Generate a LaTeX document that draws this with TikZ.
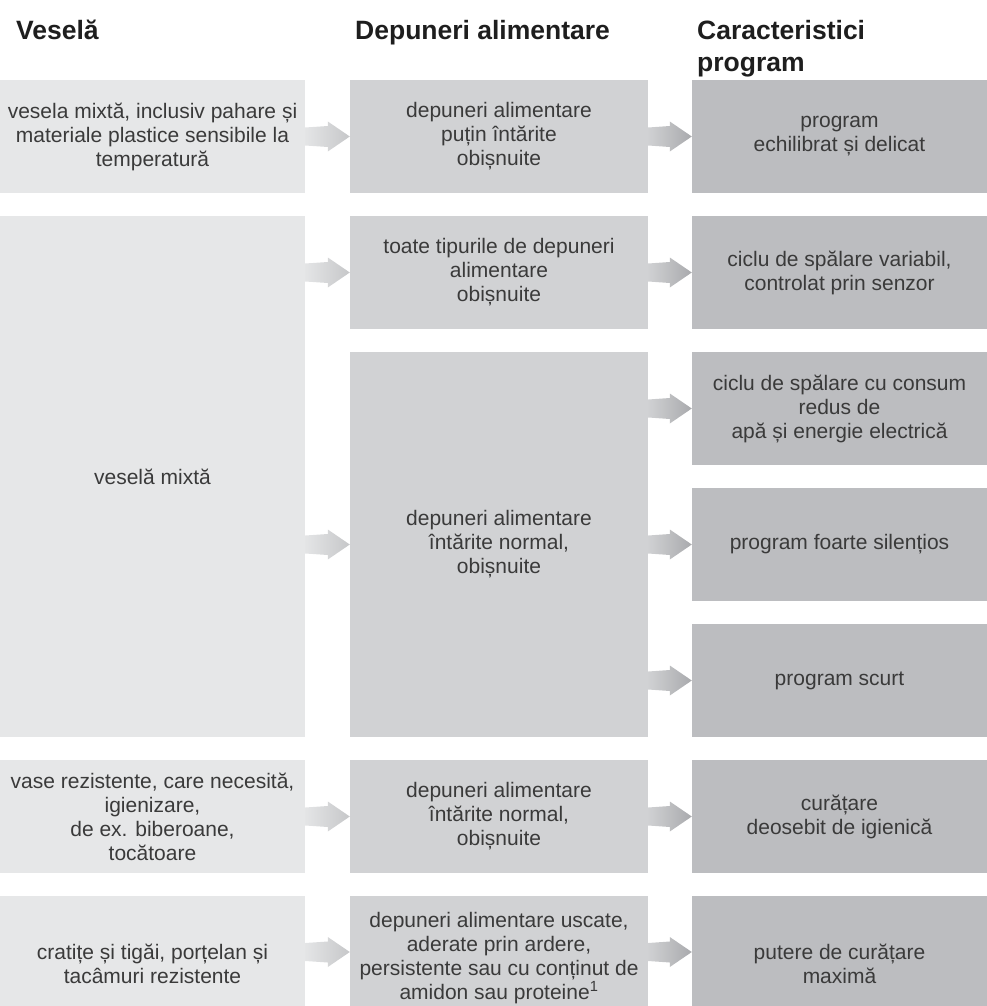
\documentclass[tikz,border=0pt]{standalone}
\usepackage{fontspec}
\setmainfont{Liberation Sans}
\usepackage{tikz}
\usetikzlibrary{calc}
\usepackage{xcolor}
\definecolor{DishGrey}{HTML}{E6E7E8}
\definecolor{SoilGrey}{HTML}{D1D2D4}
\definecolor{ProgGrey}{HTML}{BCBDC0}
\definecolor{ArrowLight}{HTML}{E4E5E6}
\definecolor{ArrowMid}{HTML}{C6C7C9}
\definecolor{ArrowMidL}{HTML}{D0D1D3}
\definecolor{ArrowDark}{HTML}{A9AAAD}
\definecolor{BodyGrey}{HTML}{3A3A3A}
\definecolor{HeadBlack}{HTML}{1E1E1E}
\tikzset{
    % Box styles - one grey per column
    dishbox/.style={
        rectangle,
        fill=DishGrey,
        inner sep=0pt,
        minimum width=305pt,
        align=center,
        text=BodyGrey,
        font=\fontsize{21}{24}\selectfont
    },
    soilbox/.style={
        dishbox,
        fill=SoilGrey,
        minimum width=298pt
    },
    progbox/.style={
        dishbox,
        fill=ProgGrey,
        minimum width=295pt
    },
    % Column headings
    colhead/.style={
        anchor=base west,
        inner sep=0pt,
        align=left,
        text=HeadBlack,
        font=\fontsize{26.5}{32}\selectfont\bfseries
    },
    % Arrow shadings
    firstarrow/.style={
        left color=ArrowLight,
        right color=ArrowMid
    },
    secondarrow/.style={
        left color=ArrowMidL,
        right color=ArrowDark
    }
}
% block arrow from one box to the next: [shift]{from}{to}{shading}
\newcommand{\flowarrow}[4][0pt]{%
    \shade[#4] let \p1=(#2.east), \p2=([yshift=#1]#3.west) in
        (\x1,\y2+9pt) -- (\x2-22pt,\y2+10.5pt) -- (\x2-22pt,\y2+15pt) -- (\x2,\y2)
        -- (\x2-22pt,\y2-15pt) -- (\x2-22pt,\y2-10.5pt) -- (\x1,\y2-9pt) -- cycle;}

\begin{document}
\begin{tikzpicture}[x=1pt,y=-1pt]
    \useasboundingbox (0,0) rectangle (987,1006);

    % Headings
    \node[colhead] (hDish) at (16,39.5) {Veselă};
    \node[colhead] (hSoil) at (355,39.5) {Depuneri alimentare};
    \node[colhead] (hProg) at (697,71.5) {Caracteristici\\program};

    % Column 1 - dishes
    \node[dishbox, minimum height=113pt] (dish1) at (152.5,136.5) {vesela mixtă, inclusiv pahare și\\materiale plastice sensibile la\\temperatură};
    \node[dishbox, minimum height=521pt] (dish2) at (152.5,476.5) {veselă mixtă};
    \node[dishbox, minimum height=113pt] (dish3) at (152.5,816.5) {vase rezistente, care necesită,\\igienizare,\\de ex. biberoane,\\tocătoare};
    \node[dishbox, minimum height=136pt] (dish4) at (152.5,964) {cratițe și tigăi, porțelan și\\tacâmuri rezistente};

    % Column 2 - soiling
    \node[soilbox, minimum height=113pt] (soil1) at (499,136.5) {depuneri alimentare\\puțin întărite\\obișnuite};
    \node[soilbox, minimum height=113pt] (soil2) at (499,272.5) {toate tipurile de depuneri\\alimentare\\obișnuite};
    \node[soilbox, minimum height=385pt] (soil3) at (499,544.5) {depuneri alimentare\\întărite normal,\\obișnuite};
    \node[soilbox, minimum height=113pt] (soil4) at (499,816.5) {depuneri alimentare\\întărite normal,\\obișnuite};
    \node[soilbox, minimum height=124pt] (soil5) at (499,958) {depuneri alimentare uscate,\\aderate prin ardere,\\persistente sau cu conținut de\\amidon sau proteine\textsuperscript{1}};

    % Column 3 - programme
    \node[progbox, minimum height=113pt] (prog1) at (839.5,136.5) {program\\echilibrat și delicat};
    \node[progbox, minimum height=113pt] (prog2) at (839.5,272.5) {ciclu de spălare variabil,\\controlat prin senzor};
    \node[progbox, minimum height=113pt] (prog3) at (839.5,408.5) {ciclu de spălare cu consum\\redus de\\apă și energie electrică};
    \node[progbox, minimum height=113pt] (prog4) at (839.5,544.5) {program foarte silențios};
    \node[progbox, minimum height=113pt] (prog5) at (839.5,680.5) {program scurt};
    \node[progbox, minimum height=113pt] (prog6) at (839.5,816.5) {curățare\\deosebit de igienică};
    \node[progbox, minimum height=136pt] (prog7) at (839.5,964) {putere de curățare\\maximă};

    % Arrows
    \flowarrow{dish1}{soil1}{firstarrow}
    \flowarrow{dish2}{soil2}{firstarrow}
    \flowarrow{dish2}{soil3}{firstarrow}
    \flowarrow{dish3}{soil4}{firstarrow}
    \flowarrow[6pt]{dish4}{soil5}{firstarrow}
    \flowarrow{soil1}{prog1}{secondarrow}
    \flowarrow{soil2}{prog2}{secondarrow}
    \flowarrow{soil3}{prog3}{secondarrow}
    \flowarrow{soil3}{prog4}{secondarrow}
    \flowarrow{soil3}{prog5}{secondarrow}
    \flowarrow{soil4}{prog6}{secondarrow}
    \flowarrow[12pt]{soil5}{prog7}{secondarrow}
\end{tikzpicture}
\end{document}
